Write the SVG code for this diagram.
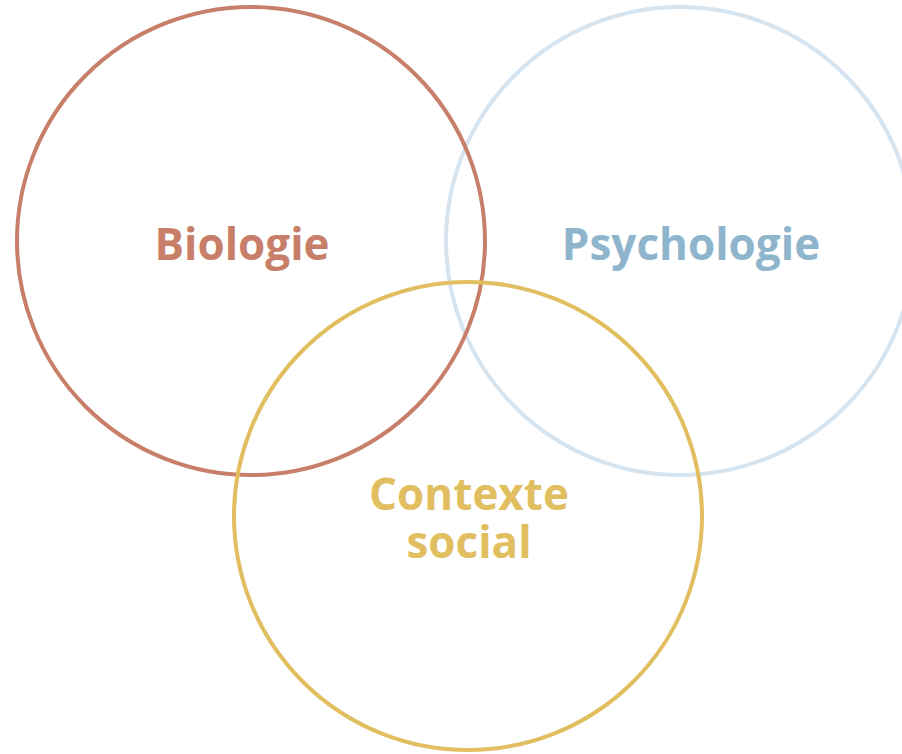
<svg xmlns="http://www.w3.org/2000/svg" width="902" height="754" viewBox="0 0 902 754">
<style>
.c{fill:none;stroke-width:4}
.t{font-family:"Open Sans","DejaVu Sans",sans-serif;font-weight:bold;font-size:44px;text-anchor:middle}
</style>
<rect width="902" height="754" fill="#ffffff"/>
<g id="psychologie">
<circle class="c" cx="680" cy="241" r="234" stroke="#d6e4f0"/>
<text class="t" x="691" y="260" fill="#8fb5cd">Psychologie</text>
</g>
<g id="biologie">
<circle class="c" cx="251" cy="241" r="234" stroke="#c77f69"/>
<text class="t" x="242" y="260" fill="#c77f69">Biologie</text>
</g>
<g id="social">
<circle class="c" cx="468" cy="516" r="234" stroke="#e1be5f"/>
<text class="t" x="469" y="510" fill="#e1be5f">Contexte</text>
<text class="t" x="469" y="558" fill="#e1be5f">social</text>
</g>
<g id="connectors"/>
</svg>
